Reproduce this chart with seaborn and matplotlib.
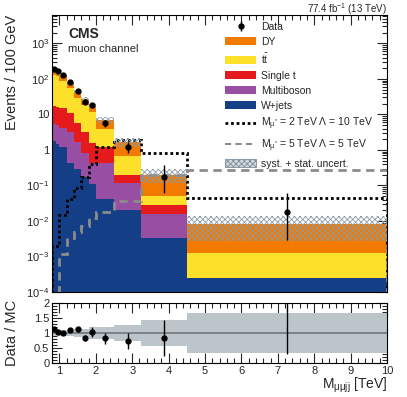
import numpy as np
import pandas as pd
import seaborn as sns
import matplotlib.pyplot as plt
from matplotlib.patches import Patch
from matplotlib.lines import Line2D
from matplotlib.ticker import MultipleLocator, FixedLocator, LogLocator, NullFormatter

# binning (TeV)
edges = [0.8, 0.9, 1.0, 1.2, 1.4, 1.6, 1.8, 2.0, 2.5, 3.25, 4.5, 10.0]

# backgrounds, events / 100 GeV
dy = [45, 47, 35, 20, 12, 8.0, 5.5, 3.0, 0.97, 0.15, 0.0072]
ttbar = [108, 102, 75, 44, 24, 15.9, 10.4, 2.8, 0.49, 0.022, 0.001]
single_t = [11.5, 11, 10.8, 7.6, 4.2, 2.26, 1.16, 0.78, 0.07, 0.0125, 0.000001]
multiboson = [3.7, 3.5, 3.0, 2.8, 1.4, 0.67, 0.33, 0.38, 0.1, 0.012, 0.000001]
wjets = [1.8, 1.5, 1.2, 0.42, 0.3, 0.17, 0.11, 0.041, 0.021, 0.0034, 0.00025]

# relative syst + stat uncertainty
unc = [0.09, 0.09, 0.09, 0.09, 0.13, 0.13, 0.2, 0.2, 0.28, 0.43, 0.67]

# data
data = [190, 170, 125, 83, 47, 23, 18, 5.8, 1.2, 0.17, 0.018]
data_lo = [10, 9, 6, 6, 4.5, 3.5, 3.2, 1.3, 0.4, 0.11, 0.015]
data_hi = [10, 9, 6, 6, 4.5, 3.5, 3.2, 1.3, 0.5, 0.21, 0.042]

# data / MC
ratio = [1.15, 1.03, 1.0, 1.1, 1.12, 0.85, 1.03, 0.82, 0.72, 0.83, 2.1]
ratio_lo = [0.06, 0.05, 0.04, 0.07, 0.09, 0.1, 0.15, 0.17, 0.25, 0.6, 1.8]
ratio_hi = [0.06, 0.05, 0.04, 0.07, 0.09, 0.1, 0.17, 0.17, 0.28, 0.6, 5.0]

# signals
sig_2tev = [0.002, 0.002, 0.0144, 0.041, 0.087, 0.17, 0.39, 1.2, 1.9, 0.82, 0.045]
sig_5tev = [0.00005, 0.00005, 0.00115, 0.0033, 0.0049, 0.0072, 0.0124, 0.018, 0.036, 0.2, 0.27]

processes = ['DY', 'tt', 'Single t', 'Multiboson', 'W+jets']
colors = ['#f27a00', '#fde02a', '#e41a1c', '#984ea3', '#143f86']
ytick_vals = [1e-4, 1e-3, 1e-2, 1e-1, 1, 10, 1e2, 1e3]
ytick_labels = ['$10^{-4}$', '$10^{-3}$', '$10^{-2}$', '$10^{-1}$', '1', '10', '$10^{2}$', '$10^{3}$']

sns.set_theme(style='ticks')
plt.rcParams['font.family'] = ['Liberation Sans', 'DejaVu Sans']
plt.rcParams['mathtext.fontset'] = 'custom'
plt.rcParams['mathtext.rm'] = 'Liberation Sans'
plt.rcParams['mathtext.it'] = 'Liberation Sans:italic'
plt.rcParams['mathtext.bf'] = 'Liberation Sans:bold'
plt.rcParams['hatch.linewidth'] = 0.6

edges_a = np.array(edges)
centers = 0.5 * (edges_a[1:] + edges_a[:-1])
bkg = [dy, ttbar, single_t, multiboson, wjets]
total = np.sum(np.array(bkg), axis=0)
unc_a = np.array(unc)

rows = []
for name, vals in zip(processes, bkg):
    for c, v in zip(centers, vals):
        rows.append({'mass': c, 'events': v, 'process': name})
df = pd.DataFrame(rows)

fig = plt.figure(figsize=(4.07, 3.97), dpi=100)
ax = fig.add_axes([0.128, 0.2645, 0.823, 0.6977])
ax2 = fig.add_axes([0.128, 0.0856, 0.823, 0.151])

sns.histplot(data=df, x='mass', weights='events', hue='process', hue_order=processes,
             palette=dict(zip(processes, colors)), bins=edges, multiple='stack',
             element='step', alpha=1, linewidth=0, legend=False, ax=ax)
ax.set_yscale('log')

ax.stairs(sig_2tev, edges, color='black', linestyle=(0, (1, 1)), linewidth=2, zorder=3)
ax.stairs(sig_5tev, edges, color='#8c8c8c', linestyle=(0, (3, 2)), linewidth=2, zorder=3)

ax.stairs(total * (1 + unc_a), edges, baseline=total * (1 - unc_a), fill=True,
          facecolor='none', edgecolor='#8a9ba8', hatch='xxxxxx', linewidth=0, zorder=4)

eb = ax.errorbar(centers, data, yerr=[data_lo, data_hi], fmt='o', color='black',
                 ms=3.5, elinewidth=1, capsize=0, zorder=5)

ax.set_xlim(0.8, 10)
ax.set_ylim(1e-4, 6300)
ax.set_xlabel('')
ax.set_ylabel('Events / 100 GeV', fontsize=10.5, loc='top')
ax.yaxis.set_major_locator(FixedLocator(ytick_vals))
ax.set_yticklabels(ytick_labels)
ax.yaxis.set_minor_locator(LogLocator(base=10, subs=np.arange(2, 10), numticks=20))
ax.yaxis.set_minor_formatter(NullFormatter())
ax.xaxis.set_major_locator(MultipleLocator(1))
ax.xaxis.set_minor_locator(MultipleLocator(0.2))
ax.tick_params(labelbottom=False)

for a in (ax, ax2):
    a.tick_params(which='both', direction='in', top=True, right=True, labelsize=8, pad=2)
    a.tick_params(which='major', length=7, width=0.8)
    a.tick_params(which='minor', length=3.5, width=0.8)
    for s in a.spines.values():
        s.set_linewidth(0.8)
        s.set_color('black')

ax.text(0.048, 0.955, 'CMS', transform=ax.transAxes, fontsize=10, fontweight='bold',
        va='top', ha='left')
ax.text(0.048, 0.895, 'muon channel', transform=ax.transAxes, fontsize=8, va='top', ha='left')
ax.text(1.0, 1.006, '77.4 fb$^{-1}$ (13 TeV)', transform=ax.transAxes, fontsize=7,
        ha='right', va='baseline')

handles = [eb] + [Patch(facecolor=c, edgecolor='none') for c in colors] + [
    Line2D([], [], color='black', linestyle=(0, (1, 1)), linewidth=2),
    Line2D([], [], color='#8c8c8c', linestyle=(0, (3, 2)), linewidth=1.5),
    Patch(facecolor='#d0d8dc', edgecolor='#7f909c', hatch='xxxxxx', linewidth=0.6)]
labels = ['Data', 'DY', r'$\mathrm{t\bar{t}}$', 'Single t', 'Multiboson', 'W+jets',
          r'M$_{\mathrm{μ^{*}}}$ = 2 TeV Λ = 10 TeV',
          r'M$_{\mathrm{μ^{*}}}$ = 5 TeV Λ = 5 TeV',
          'syst. + stat. uncert.']
ax.legend(handles, labels, loc='upper left', bbox_to_anchor=(0.505, 0.99), frameon=False,
          fontsize=7.5, handlelength=2.9, handleheight=0.8, handletextpad=0.5,
          labelspacing=0.48, borderaxespad=0)

# ratio panel
ax2.stairs(1 + unc_a, edges, baseline=1 - unc_a, fill=True, color='#bcc6ca', linewidth=0)
ax2.axhline(1, color='#6e767b', linewidth=1.2)
ax2.errorbar(centers, ratio, yerr=[ratio_lo, ratio_hi], fmt='o', color='black',
             ms=3.5, elinewidth=1, capsize=0)
ax2.set_xlim(0.8, 10)
ax2.set_ylim(0, 2)
ax2.yaxis.set_major_locator(FixedLocator([0, 0.5, 1, 1.5, 2]))
ax2.set_yticklabels(['0', '0.5', '1', '1.5', '2'])
ax2.yaxis.set_minor_locator(MultipleLocator(0.1))
ax2.xaxis.set_major_locator(MultipleLocator(1))
ax2.xaxis.set_minor_locator(MultipleLocator(0.2))
ax2.set_ylabel('Data / MC', fontsize=10.5)
ax2.set_xlabel(r'M$_{\mathrm{μμjj}}$ [TeV]', fontsize=10, loc='right', labelpad=0)
ax.yaxis.set_label_coords(-0.1, 1.0)
ax2.yaxis.set_label_coords(-0.1, 0.5)

fig.savefig('out.png', dpi=100)
